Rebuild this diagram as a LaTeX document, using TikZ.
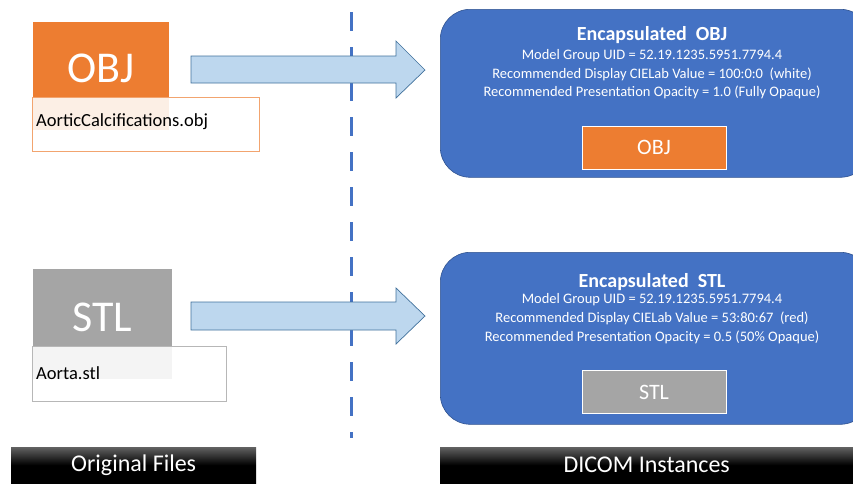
\documentclass[tikz,border=0pt]{standalone}
\usepackage{fontspec}
\setmainfont{Carlito}
\definecolor{objorange}{RGB}{237,125,49}
\definecolor{stlgray}{RGB}{165,165,165}
\definecolor{boxblue}{RGB}{68,114,196}
\definecolor{boxborder}{RGB}{47,82,143}
\definecolor{arrowfill}{RGB}{189,215,238}
\definecolor{arrowline}{RGB}{65,113,156}
\tikzset{
  bigfile/.style={rectangle, inner sep=0pt},
  bigtext/.style={text=white, inner sep=0pt, font=\fontsize{44}{44}\selectfont},
  labelbox/.style={rectangle, inner sep=0pt, fill=white, fill opacity=0.88, text opacity=1, line width=0.8pt},
  labeltext/.style={anchor=west, inner sep=0pt, font=\fontsize{18.5}{20}\selectfont},
  dicombox/.style={rectangle, rounded corners=30pt, fill=boxblue, draw=boxborder, line width=0.6pt},
  titletext/.style={text=white, inner sep=0pt, font=\bfseries\fontsize{20}{22}\selectfont},
  infotext/.style={text=white, inner sep=0pt, font=\fontsize{14.5}{16}\selectfont},
  innerbox/.style={rectangle, inner sep=0pt, draw=white, line width=1pt, text=white, font=\fontsize{22}{24}\selectfont, minimum width=144pt, minimum height=43pt},
  blockarrow/.style={fill=arrowfill, draw=arrowline, line width=0.7pt, line join=miter},
  bar/.style={rectangle, inner sep=0pt, top color=black!62, bottom color=black, middle color=black, text=white, font=\fontsize{24}{26}\selectfont},
  divider/.style={draw=boxblue, line width=3pt, dash pattern=on 19pt off 16pt}
}
\begin{document}
\begin{tikzpicture}[x=1pt,y=-1pt]
\useasboundingbox (0,0) rectangle (853,483);
% divider
\coordinate (dtop) at (351,12);
\coordinate (dbot) at (351,438);
\draw[divider] (dtop) -- (dbot);
% OBJ file
\node[bigfile, fill=objorange, minimum width=136pt, minimum height=108pt, anchor=north west] (objfile) at (33,22) {};
\node[bigtext] (objtxt) at (101,68) {OBJ};
\node[labelbox, draw=objorange!70, minimum width=227pt, minimum height=54pt, anchor=north west] (objlabel) at (32,97) {};
\node[labeltext] (objname) at (36,122) {AorticCalcifications.obj};
% STL file
\node[bigfile, fill=stlgray, minimum width=139pt, minimum height=110pt, anchor=north west] (stlfile) at (33,269) {};
\node[bigtext] (stltxt) at (102,317) {STL};
\node[labelbox, draw=stlgray!80, minimum width=194pt, minimum height=55pt, anchor=north west] (stllabel) at (32,346) {};
\node[labeltext] (stlname) at (36,373) {Aorta.stl};
% arrows
\draw[blockarrow] (191,56) -- (396,56) -- (396,41) -- (425,70) -- (396,98) -- (396,83) -- (191,83) -- cycle;
\draw[blockarrow] (191,302) -- (396,302) -- (396,288) -- (425,316) -- (396,344) -- (396,330) -- (191,330) -- cycle;
% DICOM boxes
\node[dicombox, minimum width=430pt, minimum height=168pt, anchor=north west] (objdicom) at (440,9) {};
\node[titletext] (objtitle) at (652,35) {Encapsulated\ \ OBJ};
\node[infotext] (objl1) at (652,56) {Model Group UID = 52.19.1235.5951.7794.4};
\node[infotext] (objl2) at (652,74) {Recommended Display CIELab Value = 100:0:0\ \ (white)};
\node[infotext] (objl3) at (652,92) {Recommended Presentation Opacity = 1.0\ (Fully Opaque)};
\node[innerbox, fill=objorange] (objinner) at (654,147.5) {OBJ};
\node[dicombox, minimum width=430pt, minimum height=172pt, anchor=north west] (stldicom) at (440,252) {};
\node[titletext] (stltitle) at (652,282) {Encapsulated\ \ STL};
\node[infotext] (stll1) at (652,300) {Model Group UID = 52.19.1235.5951.7794.4};
\node[infotext] (stll2) at (652,318) {Recommended Display CIELab Value = 53:80:67\ \ (red)};
\node[infotext] (stll3) at (652,337) {Recommended Presentation Opacity = 0.5\ (50\% Opaque)};
\node[innerbox, fill=stlgray] (stlinner) at (654,392) {STL};
% bottom bars
\node[bar, minimum width=245pt, minimum height=36pt, anchor=north west] (origbar) at (11,447) {Original Files};
\node[bar, minimum width=413pt, minimum height=36pt, anchor=north west] (dicombar) at (440,447) {DICOM Instances};
\end{tikzpicture}
\end{document}
